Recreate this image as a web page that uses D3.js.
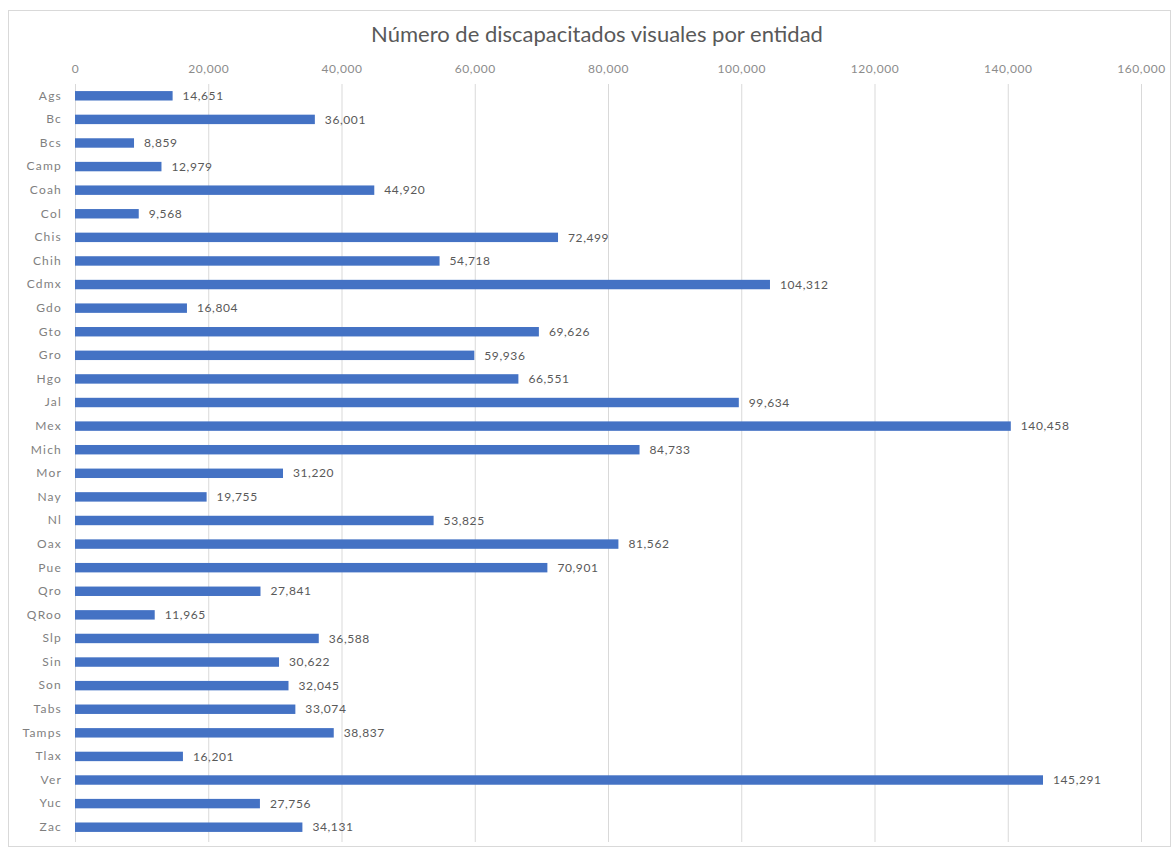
<!DOCTYPE html>
<html>
<head>
<meta charset="utf-8">
<script src="https://cdn.jsdelivr.net/npm/d3@7"></script>
<style>
  body { margin: 0; background: #fff; }
  text { font-family: Lato, "Open Sans", sans-serif; }
</style>
</head>
<body>
<div id="viz"></div>
<script>
const TITLE = 'Número de discapacitados visuales por entidad';
const entidades = ['Ags', 'Bc', 'Bcs', 'Camp', 'Coah', 'Col', 'Chis', 'Chih', 'Cdmx', 'Gdo',
  'Gto', 'Gro', 'Hgo', 'Jal', 'Mex', 'Mich', 'Mor', 'Nay', 'Nl', 'Oax', 'Pue', 'Qro', 'QRoo',
  'Slp', 'Sin', 'Son', 'Tabs', 'Tamps', 'Tlax', 'Ver', 'Yuc', 'Zac'];
const valores = [14651, 36001, 8859, 12979, 44920, 9568, 72499, 54718, 104312, 16804,
  69626, 59936, 66551, 99634, 140458, 84733, 31220, 19755, 53825, 81562, 70901, 27841, 11965,
  36588, 30622, 32045, 33074, 38837, 16201, 145291, 27756, 34131];
const xTicks = [0, 20000, 40000, 60000, 80000, 100000, 120000, 140000, 160000];

const WIDTH = 1175;
const HEIGHT = 849;
const MARGIN = { top: 84, right: 34, bottom: 10, left: 75 };

const data = entidades.map((e, i) => ({ entidad: e, valor: valores[i] }));
const fmt = d3.format(',');

const svg = d3.select('#viz').append('svg')
  .attr('width', WIDTH)
  .attr('height', HEIGHT);

// chart frame
svg.append('rect')
  .attr('x', 8.5).attr('y', 10.5)
  .attr('width', 1162).attr('height', 836)
  .attr('fill', '#fff')
  .attr('stroke', '#d9d9d9');

svg.append('text')
  .attr('x', 597).attr('y', 42)
  .attr('text-anchor', 'middle')
  .attr('font-size', 22)
  .attr('fill', '#595959')
  .text(TITLE);

const x = d3.scaleLinear()
  .domain([0, 160000])
  .range([MARGIN.left, 1141]);

const y = d3.scaleBand()
  .domain(entidades)
  .range([MARGIN.top, 839])
  .paddingInner(0.6)
  .paddingOuter(0.3);

// grid
svg.append('g').attr('class', 'grid')
  .selectAll('line')
  .data(xTicks)
  .join('line')
  .attr('x1', d => x(d) + 0.5).attr('x2', d => x(d) + 0.5)
  .attr('y1', MARGIN.top).attr('y2', 842)
  .attr('stroke', '#d9d9d9');

// top axis labels
const xAxis = d3.axisTop(x).tickValues(xTicks).tickFormat(fmt).tickSize(0).tickPadding(0);
svg.append('g')
  .attr('transform', 'translate(0, 73)')
  .call(xAxis)
  .call(g => g.select('.domain').remove())
  .call(g => g.selectAll('text')
    .attr('font-size', 12)
    .attr('letter-spacing', 0.6)
    .attr('fill', '#8c8c8c')
    .attr('font-family', 'Lato, "Open Sans", sans-serif'));

// category axis
const yAxis = d3.axisLeft(y).tickSize(0).tickPadding(13);
svg.append('g')
  .attr('transform', `translate(${MARGIN.left}, 0)`)
  .call(yAxis)
  .call(g => g.select('.domain').remove())
  .call(g => g.selectAll('text')
    .attr('font-size', 12)
    .attr('letter-spacing', 1.2)
    .attr('fill', '#7f7f7f')
    .attr('font-family', 'Lato, "Open Sans", sans-serif'));

// bars
svg.append('g').attr('class', 'bars')
  .selectAll('rect')
  .data(data)
  .join('rect')
  .attr('x', x(0))
  .attr('y', d => y(d.entidad))
  .attr('width', d => x(d.valor) - x(0))
  .attr('height', y.bandwidth())
  .attr('fill', '#4472c4');

// value labels
svg.append('g').attr('class', 'labels')
  .selectAll('text')
  .data(data)
  .join('text')
  .attr('x', d => x(d.valor) + 10)
  .attr('y', d => y(d.entidad) + y.bandwidth() / 2)
  .attr('dy', '0.35em')
  .attr('font-size', 12)
  .attr('letter-spacing', 0.6)
  .attr('fill', '#595959')
  .text(d => fmt(d.valor));
</script>
</body>
</html>
